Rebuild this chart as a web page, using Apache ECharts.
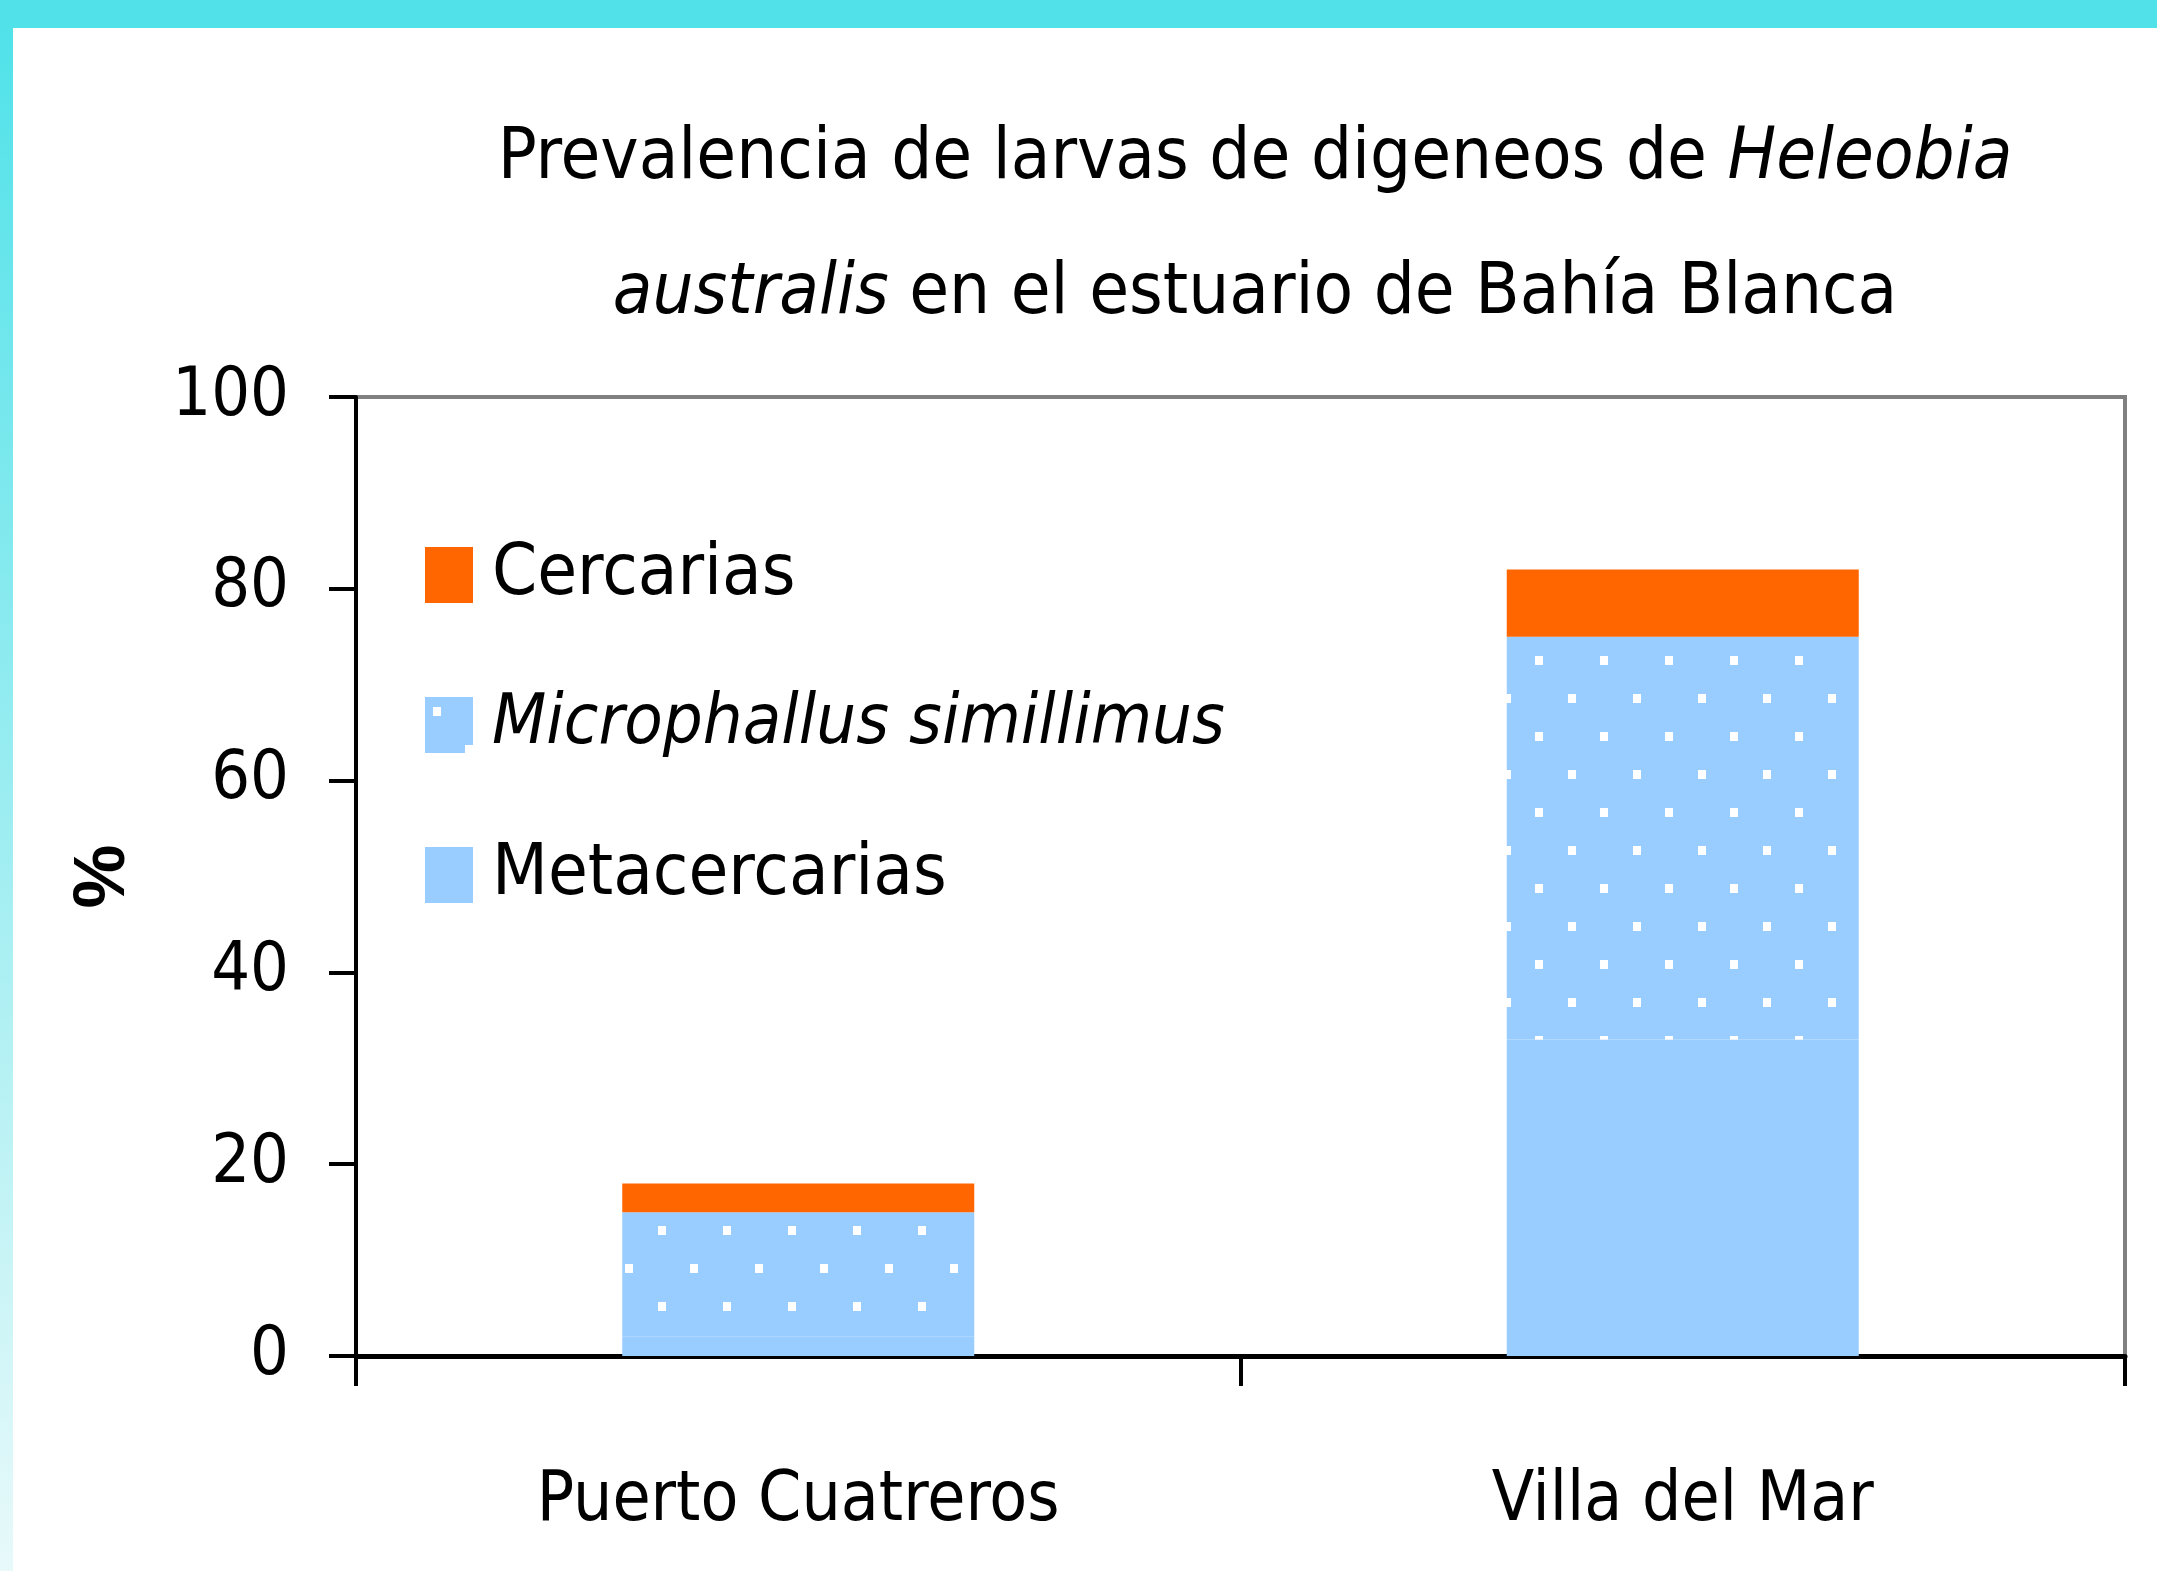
<!DOCTYPE html>
<html>
<head>
<meta charset="utf-8">
<script src="https://cdn.jsdelivr.net/npm/echarts@6/dist/echarts.min.js"></script>
<style>html,body{margin:0;padding:0;background:#fff}#c{width:2157px;height:1571px}</style>
</head>
<body>
<div id="c"></div>
<script>
const categories = ['Puerto Cuatreros', 'Villa del Mar'];
const metacercarias = [2, 33];
const microphallus = [13, 42];
const cercarias = [3, 7];
const yTicks = [0, 20, 40, 60, 80, 100];

const FONT = '"DejaVu Sans Condensed", "Liberation Sans Narrow", sans-serif';

// dotted pattern for Microphallus simillimus
const pc = document.createElement('canvas');
pc.width = 65; pc.height = 76;
const g = pc.getContext('2d');
g.fillStyle = '#99CCFF'; g.fillRect(0, 0, 65, 76);
g.fillStyle = '#FFFFFF';
g.fillRect(8, 10, 8, 9);
g.fillRect(40, 48, 8, 9);
const dotted = { image: pc, repeat: 'repeat' };

const chart = echarts.init(document.getElementById('c'), null, { renderer: 'canvas' });
chart.setOption({
  backgroundColor: '#ffffff',
  animation: false,
  graphic: [
    { type: 'rect', shape: { x: 0, y: 0, width: 2157, height: 28 }, style: { fill: '#51E2E9' }, z: -10 },
    { type: 'rect', shape: { x: 0, y: 28, width: 13, height: 1543 }, z: -10,
      style: { fill: new echarts.graphic.LinearGradient(0, 0, 0, 1, [
        { offset: 0, color: '#51E2E9' }, { offset: 0.5, color: '#9BEDF1' }, { offset: 1, color: '#E8F9FA' }]) } }
  ],
  title: {
    text: '{n|Prevalencia de larvas de digeneos de }{i|Heleobia}\n{i|australis}{n| en el estuario de Bahía Blanca}',
    left: 1250, top: 87, textAlign: 'center',
    textStyle: {
      fontWeight: 'normal',
      rich: {
        n: { fontFamily: FONT, fontSize: 72, fontWeight: 'normal', color: '#000', lineHeight: 135 },
        i: { fontFamily: FONT, fontSize: 72, fontWeight: 'normal', color: '#000', fontStyle: 'italic', lineHeight: 135 }
      }
    }
  },
  legend: {
    orient: 'vertical', left: 420, top: 534,
    itemWidth: 48, itemHeight: 56, itemGap: 79,
    icon: 'rect',
    data: ['Cercarias', 'Microphallus simillimus', 'Metacercarias'],
    formatter: function (name) { return name === 'Microphallus simillimus' ? '{i|' + name + '}' : '{n|' + name + '}'; },
    textStyle: {
      color: '#000', fontFamily: FONT, fontSize: 72, padding: [0, 0, 0, 14],
      rich: {
        n: { fontFamily: FONT, fontSize: 72, color: '#000' },
        i: { fontFamily: FONT, fontSize: 70, color: '#000', fontStyle: 'italic' }
      }
    }
  },
  grid: { left: 356, top: 397, right: 32, bottom: 215, show: true, borderColor: '#808080', borderWidth: 4, backgroundColor: '#fff' },
  xAxis: {
    type: 'category', data: categories,
    axisLine: { lineStyle: { color: '#000', width: 5 } },
    axisTick: { show: true, length: 30, lineStyle: { color: '#000', width: 4 }, alignWithLabel: false },
    axisLabel: { color: '#000', fontFamily: FONT, fontSize: 69, margin: 112 },
    splitLine: { show: false }
  },
  yAxis: {
    type: 'value', min: yTicks[0], max: yTicks[yTicks.length - 1], interval: 20,
    name: '%', nameLocation: 'middle', nameRotate: 90, nameGap: 216,
    nameTextStyle: { color: '#000', fontFamily: '"Liberation Sans", sans-serif', fontWeight: 'bold', fontSize: 72 },
    axisLine: { show: true, lineStyle: { color: '#000', width: 4 } },
    axisTick: { show: true, length: 27, lineStyle: { color: '#000', width: 4 } },
    axisLabel: { color: '#000', fontFamily: FONT, fontSize: 68, margin: 67 },
    splitLine: { show: false }
  },
  series: [
    { name: 'Metacercarias', type: 'bar', stack: 's', barWidth: 352, data: metacercarias, itemStyle: { color: '#99CCFF' } },
    { name: 'Microphallus simillimus', type: 'bar', stack: 's', barWidth: 352, data: microphallus, itemStyle: { color: dotted } },
    { name: 'Cercarias', type: 'bar', stack: 's', barWidth: 352, data: cercarias, itemStyle: { color: '#FF6600' } }
  ]
});
</script>
</body>
</html>
